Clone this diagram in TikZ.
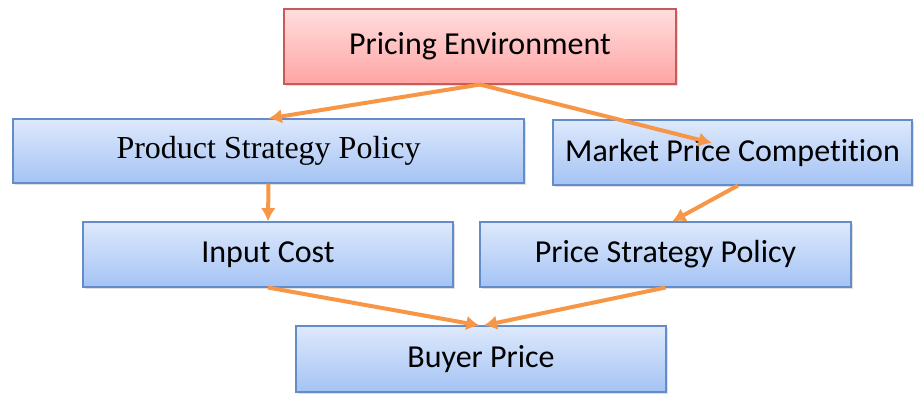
\documentclass[tikz,border=0pt]{standalone}
\usepackage{fontspec}
\setmainfont[Ligatures={NoCommon}]{Carlito}
\newfontfamily\timesfont{Liberation Serif}
\usetikzlibrary{positioning,arrows.meta,shadows}
\definecolor{bluetop}{RGB}{222,233,252}
\definecolor{bluebot}{RGB}{164,195,244}
\definecolor{blueedge}{RGB}{100,140,200}
\definecolor{redtop}{RGB}{255,222,222}
\definecolor{redbot}{RGB}{255,164,164}
\definecolor{rededge}{RGB}{200,90,90}
\definecolor{arrorange}{RGB}{247,150,70}

\begin{document}
\begin{tikzpicture}[x=0.75pt, y=-0.75pt, thick,
    box/.style={line width=0.8pt, inner sep=0pt, minimum height=48.75pt,
        font=\fontsize{24}{28}\selectfont,
        drop shadow={opacity=0.25, shadow xshift=1.2pt, shadow yshift=-1.5pt}},
    bluebox/.style={box, draw=blueedge, top color=bluetop, bottom color=bluebot},
    redbox/.style={box, draw=rededge, top color=redtop, bottom color=redbot},
    link/.style={-{Latex[length=10pt,width=11pt]}, draw=arrorange, line width=3pt}]
    \useasboundingbox (0,0) rectangle (914,394);

    \node[redbox, minimum width=294pt, minimum height=56.25pt] (env) at (480, 46.5) {Pricing Environment};

    \node[bluebox, minimum width=383.25pt, minimum height=48pt, font=\fontsize{24}{28}\timesfont] (prod) at (268.5, 151) {Product Strategy Policy};
    \node[bluebox, minimum width=269.25pt] (market) at (732.5, 152.5) {Market Price Competition};

    \node[bluebox, minimum width=277.5pt] (input) at (268, 254.5) {Input Cost};
    \node[bluebox, minimum width=278.25pt] (pricestrat) at (665.5, 254.5) {Price Strategy Policy};

    \node[bluebox, minimum width=277.5pt, minimum height=49.5pt] (buyer) at (481, 359) {Buyer Price};

    \coordinate (mkttip) at (712, 143);

    % arrows
    \draw[link] (env.south) -- (prod.north);
    \draw[link] (env.south) -- (mkttip);
    \draw[link] (prod.south) -- (input.north);
    \draw[link] ([xshift=4pt]market.south) -- ([xshift=5pt]pricestrat.north);
    \draw[link] (input.south) -- ([xshift=-1pt]buyer.north);
    \draw[link] (pricestrat.south) -- ([xshift=2pt]buyer.north);
\end{tikzpicture}
\end{document}
